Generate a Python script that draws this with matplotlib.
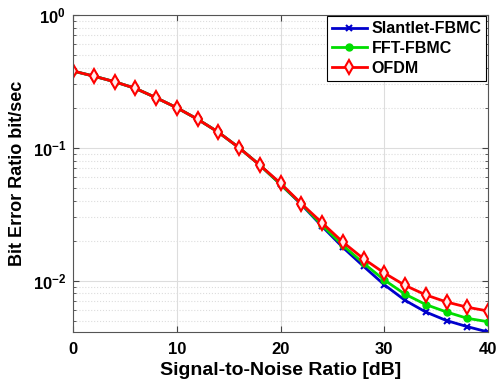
import matplotlib
matplotlib.use("Agg")
import matplotlib.pyplot as plt
from matplotlib.ticker import LogLocator, NullFormatter

plt.rcParams['font.family'] = ['Liberation Sans', 'DejaVu Sans']
plt.rcParams['font.weight'] = 'bold'

# SNR points [dB]
snr = [0, 2, 4, 6, 8, 10, 12, 14, 16, 18, 20, 22, 24, 26, 28, 30, 32, 34, 36, 38, 40]

# BER values
ber_slantlet = [0.378, 0.346, 0.314, 0.280, 0.238, 0.200, 0.164, 0.131, 0.100, 0.074,
                0.053, 0.0375, 0.0256, 0.0178, 0.0128, 0.0093, 0.0071, 0.0058, 0.0050,
                0.0045, 0.0041]
ber_fft = [0.378, 0.346, 0.314, 0.280, 0.238, 0.200, 0.164, 0.131, 0.100, 0.074,
           0.053, 0.0378, 0.0261, 0.0184, 0.0135, 0.0101, 0.0079, 0.0066, 0.0058,
           0.0052, 0.0049]
ber_ofdm = [0.378, 0.346, 0.314, 0.280, 0.238, 0.200, 0.164, 0.131, 0.100, 0.074,
            0.054, 0.038, 0.0272, 0.0195, 0.0146, 0.0114, 0.0092, 0.0078, 0.0069,
            0.0063, 0.0059]

fig = plt.figure(figsize=(4.97, 3.92), dpi=100)
ax = fig.add_axes([0.147, 0.153, 0.835, 0.809])

ax.semilogy(snr, ber_slantlet, color='#0000cc', marker='x', markersize=5,
            markeredgewidth=1.5, linewidth=2, label='Slantlet-FBMC')
ax.semilogy(snr, ber_fft, color='#00dd00', marker='o', markersize=5,
            linewidth=2, label='FFT-FBMC')
ax.semilogy(snr, ber_ofdm, color='#ff0000', marker='d', markersize=7,
            markerfacecolor='#ffecec', markeredgewidth=1.5, linewidth=2, label='OFDM')

ax.set_xlim(0, 40)
ax.set_ylim(0.0041, 1)
ax.set_xticks([0, 10, 20, 30, 40])
ax.yaxis.set_major_locator(LogLocator(base=10, numticks=10))
ax.yaxis.set_minor_locator(LogLocator(base=10, subs=range(2, 10), numticks=20))
ax.yaxis.set_minor_formatter(NullFormatter())

ax.grid(True, which='major', color='#dddddd', linewidth=0.8)
ax.grid(True, which='minor', axis='y', color='#dddddd', linestyle=':', linewidth=0.8)
ax.set_axisbelow(True)

ax.tick_params(which='both', direction='in', top=True, right=True, labelsize=12,
               color='#444444')
ax.tick_params(which='major', length=4)
ax.tick_params(which='minor', length=2)
ax.tick_params(axis='x', pad=7)
ax.tick_params(axis='y', pad=5)
for sp in ax.spines.values():
    sp.set_color('#555555')
    sp.set_linewidth(0.8)

ax.set_xlabel('Signal-to-Noise Ratio [dB]', fontsize=14, fontweight='bold', labelpad=4)
ax.set_ylabel('Bit Error Ratio bit/sec', fontsize=13, fontweight='bold', labelpad=5)

leg = ax.legend(loc='upper right', fontsize=11.5, fancybox=False, framealpha=1,
                edgecolor='black', borderpad=0.3, labelspacing=0.3,
                handlelength=2.2, handletextpad=0.3, borderaxespad=0.1)
leg.get_frame().set_linewidth(0.8)

fig.savefig('out.png', dpi=100)
